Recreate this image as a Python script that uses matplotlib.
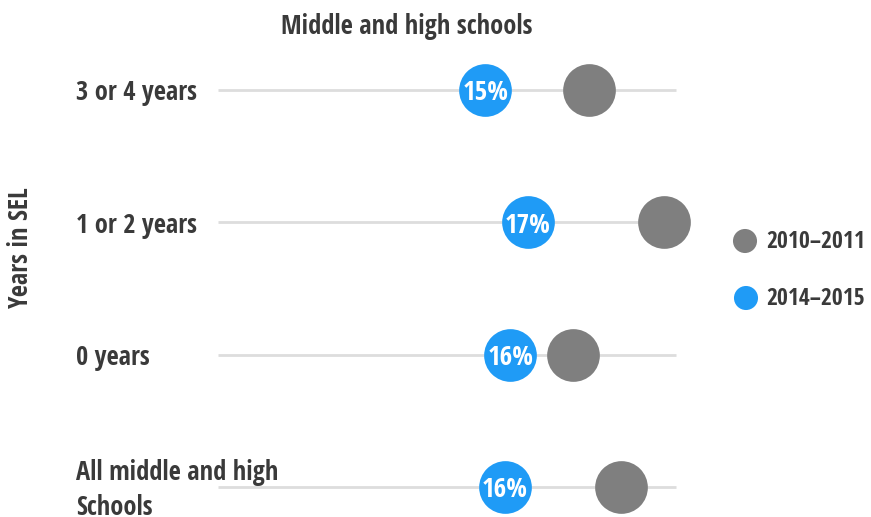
import matplotlib
matplotlib.use("Agg")
import matplotlib.pyplot as plt
import matplotlib.transforms as mtransforms

plt.rcParams["font.family"] = ["Open Sans Condensed", "Open Sans", "DejaVu Sans"]
plt.rcParams["font.weight"] = "bold"

# Share of students (%) by years in SEL, middle and high schools
categories = ["3 or 4 years", "1 or 2 years", "0 years", "All middle and high\nSchools"]
series_names = ["2010–2011", "2014–2015"]
values_2010 = [20.8, 25.0, 19.9, 22.6]
values_2014 = [15.0, 17.4, 16.4, 16.1]
x_max = 25.7

TEXT = "#3a3a3a"
GRAY = "#7f7f7f"
BLUE = "#1f9bf6"
LINE = "#dddddd"

W, H = 871, 517
fig = plt.figure(figsize=(W / 100, H / 100), dpi=100)

# axes box in pixel terms: rows run from y=90 to y=487, track from x=218 to x=676
left, right, top, bottom = 218, 676, 90, 487
ax = fig.add_axes([left / W, 1 - bottom / H, (right - left) / W, (bottom - top) / H])
ax.set_xlim(0, x_max)
ax.set_ylim(len(categories) - 1, 0)
ax.axis("off")

rows = list(range(len(categories)))
for r in rows:
    ax.plot([0, x_max], [r, r], color=LINE, lw=2, zorder=1, clip_on=False, solid_capstyle="butt")

ax.scatter(values_2010, rows, s=1440, color=GRAY, zorder=2, clip_on=False, linewidths=0)
ax.scatter(values_2014, rows, s=1440, color=BLUE, zorder=3, clip_on=False, linewidths=0)
for v, r in zip(values_2014, rows):
    ax.text(v, r, f"{round(v)}%", color="white", fontsize=19.5, ha="center", va="center_baseline",
            zorder=4)

# category labels, left-aligned, nudged a few pixels below the track
label_x = -142 / (right - left) * x_max
nudge = mtransforms.offset_copy(ax.transData, fig=fig, x=0, y=-3, units="dots")
for r, c in zip(rows, categories):
    ax.text(label_x, r, c, color=TEXT, fontsize=19, ha="left", va="center",
            linespacing=1.35, transform=nudge)

fig.text(407 / W, 1 - 26 / H, "Middle and high schools", color=TEXT, fontsize=19,
         ha="center", va="center")
fig.text(21 / W, 1 - 248 / H, "Years in SEL", color=TEXT, fontsize=19,
         ha="center", va="center", rotation=90)

# legend
for name, y in zip(series_names, [242, 299]):
    fig.text(766 / W, 1 - y / H, name, color=TEXT, fontsize=17, ha="left", va="center")
fig_ax = fig.add_axes([0, 0, 1, 1], zorder=-1)
fig_ax.set_xlim(0, W)
fig_ax.set_ylim(H, 0)
fig_ax.axis("off")
fig_ax.scatter([745, 746], [241, 298], s=300, color=[GRAY, BLUE], linewidths=0)

fig.savefig("out.png", dpi=100)
